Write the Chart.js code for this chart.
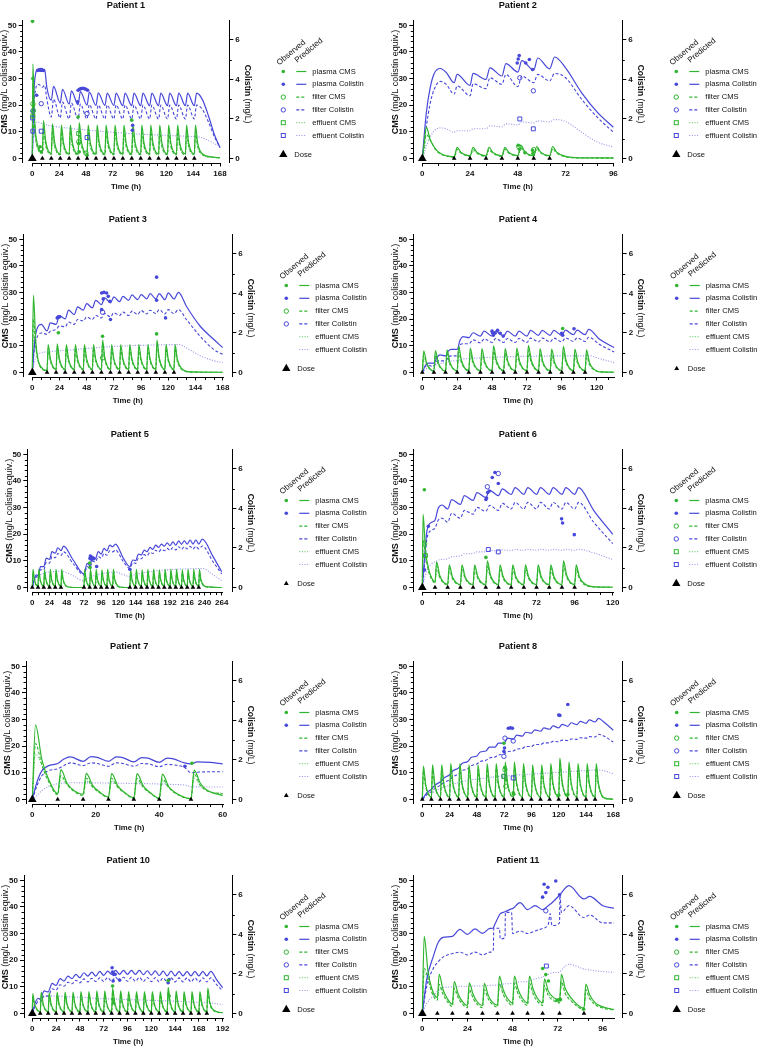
<!DOCTYPE html>
<html><head><meta charset="utf-8">
<script src="https://cdn.jsdelivr.net/npm/chart.js@4.4.1/dist/chart.umd.min.js"></script>
<style>
html,body{margin:0;padding:0;background:#fff;overflow:hidden;}
#wrap{position:relative;width:759px;height:1050px;}
canvas{position:absolute;}
</style></head><body><div id="wrap"></div>
<script>
// ================= DATA =================
const cmsTicks = [0, 10, 20, 30, 40, 50];
const colistinTicks = [0, 2, 4, 6];

// ---------- Patient 1 ----------
const p1XTicks = [0,24,48,72,96,120,144,168];
const p1DoseLoad = [0];
const p1DoseMaint = [9,17,25,33,41,49,57,65,73,81,89,97,105,113,121,129,137,145];
const p1CmsTime = [0,0.5,2,4, 9,10,12, 17,18,20, 25,26,28, 33,34,36, 41,42,44, 49,50,52, 57,58,60, 65,66,68, 73,74,76, 81,82,84, 89,90,92, 97,98,100, 105,106,108, 113,114,116, 121,122,124, 129,130,132, 137,138,140, 145,146,148, 153,160,168];
const p1PlasmaCms = [0,35.5,15,6.5, 2.5,14.2,6.5, 1.8,13,6, 1.7,12.5,5.8, 1.7,12.5,5.8, 1.7,13.5,6.2, 1.8,12.5,5.8, 1.7,12.5,5.8, 1.7,12.5,5.8, 1.7,12.5,5.8, 1.7,12.5,5.8, 1.7,12.8,6, 1.7,12.5,5.8, 1.7,12.5,5.8, 1.7,12.5,5.8, 1.7,12.5,5.8, 1.7,12.5,5.8, 1.7,12.5,5.8, 1.7,12.5,5.8, 1.5,0.6,0.3];
const p1FilterCms = [0,28,12,5, 2,11.5,5.2, 1.5,10.5,4.8, 1.4,10,4.6, 1.4,10,4.6, 1.4,10.8,5, 1.4,10,4.6, 1.4,10,4.6, 1.4,10,4.6, 1.4,10,4.6, 1.4,10,4.6, 1.4,10.2,4.7, 1.4,10,4.6, 1.4,10,4.6, 1.4,10,4.6, 1.4,10,4.6, 1.4,10,4.6, 1.4,10,4.6, 1.4,10,4.6, 1.2,0.5,0.2];
const p1EffluentCms = [0,20,11,5, 2,9,4.6, 1.5,8.3,4.2, 1.4,8,4, 1.4,8,4, 1.4,8.6,4.3, 1.4,8,4, 1.4,8,4, 1.4,8,4, 1.4,8,4, 1.4,8,4, 1.4,8.2,4.1, 1.4,8,4, 1.4,8,4, 1.4,8,4, 1.4,8,4, 1.4,8,4, 1.4,8,4, 1.4,8,4, 1.2,0.5,0.2];
const p1ColTime = [0,1,3,5,7,9,11,13, 17,19, 25,27, 33,35, 41,43, 49,51, 57,59, 65,67, 73,75, 81,83, 89,91, 97,99, 105,107, 113,115, 121,123, 129,131, 137,139, 145,147, 152,158,163,168];
const p1PlasmaCol = [0,2.8,4.3,4.5,4.4,4.4,4.5,3.6, 2.95,3.65, 2.8,3.5, 2.75,3.42, 2.72,3.38, 2.7,3.35, 2.68,3.32, 2.68,3.3, 2.68,3.3, 2.67,3.3, 2.67,3.3, 2.67,3.3, 2.67,3.3, 2.67,3.3, 2.67,3.3, 2.67,3.3, 2.67,3.3, 2.67,3.3, 3.0,2.1,1.2,0.55];
const p1FilterCol = [0,2.2,3.5,3.75,3.7,3.6,3.7,3.0, 2.1,3.0, 2.05,2.85, 2.0,2.8, 2.0,2.75, 2.0,2.72, 2.0,2.7, 2.0,2.7, 2.0,2.7, 2.0,2.7, 2.0,2.7, 2.0,2.7, 2.0,2.7, 2.0,2.7, 2.0,2.7, 2.0,2.7, 2.0,2.7, 2.0,2.7, 2.5,1.8,1.1,0.55];
const p1EffluentCol = [0,1.0,1.8,1.85,1.8,1.76,1.72,1.69, 1.64,1.62, 1.58,1.56, 1.53,1.51, 1.48,1.47, 1.44,1.43, 1.4,1.39, 1.36,1.35, 1.32,1.31, 1.29,1.28, 1.26,1.25, 1.23,1.22, 1.21,1.2, 1.19,1.18, 1.17,1.16, 1.15,1.14, 1.13,1.12, 1.11,1.1, 1.05,0.9,0.75,0.62];
const p1ObsPlasmaCms = [[0.2,51.5],[0.5,30],[1,20],[1.5,12],[7,4.4],[8,2.5],[41,15.6],[41.5,5.6],[42,2.5],[49,1.25],[89,14.4]];
const p1ObsPlasmaCol = [[3.9,3.2],[4.8,4.45],[6,4.48],[7.2,4.5],[8.5,4.5],[10,4.45],[40.5,2.86],[41,3.45],[42.2,3.5],[43.5,3.53],[45,3.55],[46.5,3.53],[48,3.5],[49.5,3.45],[89.5,1.43],[89.8,1.68]];
const p1ObsFilterCms = [[0.5,20.5],[1,18],[8,3.5],[41.5,6.3],[48,2]];
const p1ObsFilterCol = [[0.5,2.4],[8,2.77],[49,2.27]];
const p1ObsEffluentCms = [[0.5,16],[41.5,9.4]];
const p1ObsEffluentCol = [[0.3,2.05],[0.5,1.38],[8,1.38],[49,1.06]];

// ---------- Patient 2 ----------
const p2XTicks = [0,24,48,72,96];
const p2DoseLoad = [0];
const p2DoseMaint = [16,24,32,40,48,56,64];
const p2CmsTime = [0,1,2,4,7,10,13,16,17.5,19.5,24,25.5,27.5,32,33.5,35.5,40,41.5,43.5,48,49.5,51.5,56,57.5,59.5,64,65.5,67.5,72,80,96];
const p2PlasmaCms = [0,6,11.8,7,3.2,1.6,0.9,0.6,4.2,2.3,1.0,4.2,2.3,1.0,4.2,2.3,1.0,4.2,2.3,1.1,5.0,2.6,1.1,4.5,2.4,1.1,4.5,2.4,0.8,0.25,0.2];
const p2FilterCms = [0,5,9,7,3,1.4,0.8,0.5,3.5,2.0,0.8,3.5,2.0,0.8,3.5,2.0,0.8,3.5,2.0,0.9,4.0,2.2,0.9,3.8,2.1,0.9,3.8,2.1,0.6,0.2,0.15];
const p2EffluentCms = [0,3,7,6.5,3.2,1.5,0.9,0.6,2.8,2.1,0.9,2.8,2.1,0.9,2.8,2.1,0.9,2.8,2.1,1.0,3.3,2.3,1.0,3.1,2.2,1.0,3.1,2.2,0.7,0.25,0.15];
const p2ColTime = [0,2,4,6,9,12,16,17.5,24,25.5,32,34,40,42,48,50,56,58,64,66.5,72,80,88,96];
const p2PlasmaCol = [0,2.3,3.6,4.3,4.55,4.35,3.83,4.25,3.7,4.3,4.0,4.58,4.17,4.8,4.37,4.95,4.47,5.08,4.53,5.13,4.58,3.33,2.33,1.58];
const p2FilterCol = [0,1.6,2.8,3.5,3.9,3.75,3.25,3.67,3.17,3.78,3.53,4.08,3.75,4.25,3.63,4.17,3.83,4.25,3.92,4.3,4.08,3.0,2.08,1.33];
const p2EffluentCol = [0,0.6,1.1,1.4,1.55,1.5,1.33,1.4,1.4,1.5,1.5,1.65,1.6,1.75,1.7,1.85,1.8,1.9,1.85,1.97,1.87,1.33,0.83,0.58];
const p2ObsPlasmaCms = [[48.2,5.0],[48.8,3.5],[51.6,2.2],[55.4,3.1],[55.6,1.9]];
const p2ObsPlasmaCol = [[47.7,4.83],[48.2,5.03],[48.7,5.2],[52,4.83],[53.8,5.0],[55.4,4.5]];
const p2ObsFilterCms = [[48.5,4.4],[56,3.3]];
const p2ObsFilterCol = [[49,4.08],[55.8,3.42]];
const p2ObsEffluentCms = [];
const p2ObsEffluentCol = [[49,2.0],[55.8,1.5]];

// ---------- Patient 3 ----------
const p3XTicks = [0,24,48,72,96,120,144,168];
const p3DoseLoad = [0];
const p3DoseMaint = [13,21,29,37,45,53,61,69,77,85,93,101,109,117,125];
const p3CmsTime = [0,1,3,5,9, 13,14,16, 21,22,24, 29,30,32, 37,38,40, 45,46,48, 53,54,56, 61,62,64, 69,70,72, 77,78,80, 85,86,88, 93,94,96, 101,102,104, 109,110,112, 117,118,120, 125,126,128, 133,140,168];
const p3PlasmaCms = [0,29,12,5,1.5, 0.8,10.5,5, 1.2,10.8,5, 1.2,10.5,5, 1.2,10.5,5, 1.2,10.5,5, 1.2,10.5,5, 1.2,12.2,5.6, 1.2,10.5,5, 1.2,10.5,5, 1.2,10.5,5, 1.2,10.5,5, 1.2,10.5,5, 1.2,12.2,5.6, 1.2,10.5,5, 1.2,10.5,5, 1.0,0.2,0.1];
const p3FilterCms = [0,20,10,4.5,1.2, 0.7,9,4.3, 1,9.2,4.3, 1,9,4.3, 1,9,4.3, 1,9,4.3, 1,9,4.3, 1,10.4,4.8, 1,9,4.3, 1,9,4.3, 1,9,4.3, 1,9,4.3, 1,9,4.3, 1,10.4,4.8, 1,9,4.3, 1,9,4.3, 0.8,0.15,0.1];
const p3EffluentCms = [0,14,9,4.2,1.3, 0.7,7.5,4, 1,7.6,4, 1,7.5,4, 1,7.5,4, 1,7.5,4, 1,7.5,4, 1,8.6,4.5, 1,7.5,4, 1,7.5,4, 1,7.5,4, 1,7.5,4, 1,7.5,4, 1,8.6,4.5, 1,7.5,4, 1,7.5,4, 0.8,0.15,0.1];
const p3ColTime = [0,2,4,8,13,16,21,24,29,32,37,40,45,48,53,56,61,64,69,72,77,80,85,88,93,96,101,104,109,112,117,120,125,129,136,148,160,168];
const p3PlasmaCol = [0,1.5,2.18,2.43,2.1,2.51,2.43,2.88,2.71,3.15,2.93,3.32,3.15,3.48,3.27,3.65,3.43,3.77,3.52,3.82,3.58,3.85,3.65,3.92,3.68,3.94,3.72,3.99,3.72,3.99,3.68,4.02,3.72,4.05,3.35,2.35,1.68,1.26];
const p3FilterCol = [0,1.3,1.76,2.0,1.93,2.09,2.18,2.35,2.31,2.55,2.43,2.68,2.6,2.81,2.68,2.88,2.76,2.98,2.81,3.02,2.88,3.05,2.88,3.1,2.93,3.13,2.96,3.15,2.98,3.18,2.96,3.18,2.98,3.18,2.68,1.84,1.17,0.92];
const p3EffluentCol = [0,0.6,0.84,1.0,1.04,1.05,1.09,1.1,1.12,1.13,1.15,1.17,1.2,1.21,1.24,1.25,1.28,1.29,1.31,1.32,1.33,1.34,1.35,1.36,1.37,1.37,1.38,1.39,1.39,1.4,1.4,1.41,1.41,1.42,1.25,0.85,0.6,0.5];
const p3ObsPlasmaCms = [[23,14.9],[62,13.6],[109.7,14.5]];
const p3ObsPlasmaCol = [[22,2.76],[23,2.81],[24,2.81],[61.2,4.02],[61.2,3.18],[62.6,3.72],[63.2,4.05],[65.6,4.02],[67,3.85],[68.5,3.6],[69,2.68],[109.7,4.82],[109.7,3.65],[117.6,2.76]];
const p3ObsFilterCms = [[62,5.5]];
const p3ObsFilterCol = [[62,3.05]];
const p3ObsEffluentCms = [];
const p3ObsEffluentCol = [];

// ---------- Patient 4 ----------
const p4XTicks = [0,24,48,72,96,120];
const p4DoseLoad = [];
const p4DoseMaint = [0,8,16,24,32,40,48,56,64,72,80,88,96,104,112];
const p4CmsTime = [0,1,3, 8,9,11, 16,17,19, 24,25,27, 32,33,35, 40,41,43, 48,49,51, 56,57,59, 64,65,67, 72,73,75, 80,81,83, 88,89,91, 96,97,99, 104,105,107, 112,113,115, 120,124,132];
const p4PlasmaCms = [0,8.1,3.6, 0.6,8.2,3.7, 0.6,8.5,3.8, 0.6,9.8,4.4, 0.7,9.2,4.1, 0.7,9,4, 0.7,10,4.5, 0.7,9,4, 0.7,9.2,4.1, 0.7,10.2,4.6, 0.7,9,4, 0.7,8.8,3.9, 0.7,9.8,4.4, 0.7,8.8,3.9, 0.7,8.5,3.8, 0.6,0.2,0.1];
const p4FilterCms = [0,6.5,3, 0.5,6.6,3.1, 0.5,6.8,3.2, 0.5,7.8,3.6, 0.6,7.4,3.4, 0.6,7.2,3.3, 0.6,8,3.7, 0.6,7.2,3.3, 0.6,7.4,3.4, 0.6,8.2,3.8, 0.6,7.2,3.3, 0.6,7,3.2, 0.6,7.8,3.6, 0.6,7,3.2, 0.6,6.8,3.1, 0.5,0.15,0.1];
const p4EffluentCms = [0,5,2.8, 0.6,5.2,2.9, 0.6,5.4,3, 0.6,6.2,3.4, 0.7,5.8,3.2, 0.7,5.7,3.2, 0.7,6.3,3.5, 0.7,5.7,3.2, 0.7,5.8,3.2, 0.7,6.4,3.6, 0.7,5.7,3.2, 0.7,5.5,3.1, 0.7,6.2,3.4, 0.7,5.5,3.1, 0.7,5.4,3, 0.6,0.2,0.1];
const p4ColTime = [0,2,4,8,10,12,16,18,20,24,26,28,32,35,40,42.5,48,50.5,56,58.5,64,66.5,72,74.5,80,82.5,88,90.5,96,98.5,104,106.5,112,114.5,122,132];
const p4PlasmaCol = [0,0.34,0.47,0.47,0.75,0.89,0.84,1.09,1.17,1.17,1.64,1.81,1.76,2.01,1.84,2.09,1.84,2.09,1.84,2.09,1.84,2.09,1.84,2.13,1.88,2.13,1.88,2.13,1.88,2.14,1.91,2.14,1.91,2.18,1.68,1.26];
const p4FilterCol = [0,0.3,0.34,0.34,0.55,0.59,0.59,0.8,0.84,0.84,1.4,1.45,1.45,1.65,1.5,1.7,1.52,1.72,1.52,1.72,1.52,1.72,1.52,1.74,1.55,1.74,1.55,1.74,1.55,1.75,1.57,1.75,1.57,1.78,1.42,1.04];
const p4EffluentCol = [0,0.15,0.25,0.35,0.4,0.45,0.5,0.55,0.58,0.6,0.65,0.68,0.7,0.72,0.74,0.76,0.77,0.78,0.79,0.8,0.8,0.81,0.82,0.82,0.83,0.83,0.83,0.84,0.84,0.84,0.84,0.84,0.84,0.85,0.7,0.5];
const p4ObsPlasmaCms = [[96.6,16.5]];
const p4ObsPlasmaCol = [[48,2.09],[48.5,1.98],[49,1.89],[50.2,2.0],[51.8,2.13],[53.6,1.98],[55.7,1.84],[95.9,1.98],[96.6,1.88],[104.4,2.21]];

// ---------- Patient 5 ----------
const p5XTicks = [0,24,48,72,96,120,144,168,192,216,240,264];
const p5DoseLoad = [];
const p5DoseMaint = [0,8,16,24,32,40,72,80,88,96,104,112,136,144,152,160,168,176,184,192,200,208,216,224,232];
const p5CmsTime = [0,1,3,8,9,11,16,17,19,24,25,27,32,33,35,40,41,43,49,60, 72,73,75,80,81,83,88,89,91,96,97,99,104,105,107,112,113,115,121,130, 136,137,139,144,145,147,152,153,155,160,161,163,168,169,171,176,177,179,184,185,187,192,193,195,200,201,203,208,209,211,216,217,219,224,225,227,232,233,235,243,264];
const p5PlasmaCms = [0,6.8,3,0.5,6.8,3,0.5,6.6,3,0.5,6.8,3,0.5,6.8,3,0.5,6.8,3,0.3,0, 0,6.8,3,0.5,6.8,3,0.5,6.8,3,0.5,6.6,3,0.5,6.8,3,0.5,6.8,3,0.3,0, 0,6.8,3,0.5,6.8,3,0.5,6.6,3,0.5,6.8,3,0.5,6.8,3,0.5,6.6,3,0.5,6.8,3,0.5,6.8,3,0.5,6.8,3,0.5,6.6,3,0.5,6.8,3,0.5,6.8,3,0.5,6.8,3,0.3,0];
const p5FilterCms = [0,5.5,2.6,0.4,5.5,2.6,0.4,5.4,2.6,0.4,5.5,2.6,0.4,5.5,2.6,0.4,5.5,2.6,0.2,0, 0,5.5,2.6,0.4,5.5,2.6,0.4,5.5,2.6,0.4,5.4,2.6,0.4,5.5,2.6,0.4,5.5,2.6,0.2,0, 0,5.5,2.6,0.4,5.5,2.6,0.4,5.4,2.6,0.4,5.5,2.6,0.4,5.5,2.6,0.4,5.4,2.6,0.4,5.5,2.6,0.4,5.5,2.6,0.4,5.5,2.6,0.4,5.4,2.6,0.4,5.5,2.6,0.4,5.5,2.6,0.4,5.5,2.6,0.2,0];
const p5EffluentCms = [0,4.4,2.8,0.6,4.5,2.8,0.6,4.4,2.8,0.6,4.5,2.8,0.6,4.5,2.8,0.6,4.5,2.8,0.3,0, 0,4.4,2.8,0.6,4.5,2.8,0.6,4.5,2.8,0.6,4.4,2.8,0.6,4.5,2.8,0.6,4.5,2.8,0.3,0, 0,4.4,2.8,0.6,4.5,2.8,0.6,4.4,2.8,0.6,4.5,2.8,0.6,4.5,2.8,0.6,4.4,2.8,0.6,4.5,2.8,0.6,4.5,2.8,0.6,4.5,2.8,0.6,4.4,2.8,0.6,4.5,2.8,0.6,4.5,2.8,0.6,4.5,2.8,0.3,0];
const p5ColTime = [0,3,6,8,11.5,16,19.5,24,27.5,32,35.5,40,43.5,57, 72,76.5,80,84,88,92,96,100,104,108,112,116,127, 136,140,144,148,152,156,160,164,168,172,176,180,184,188,192,196,200,204,208,212,216,220,224,228,232,237,252,264];
const p5PlasmaCol = [0,0.45,0.64,0.6,1.06,1.05,1.48,1.42,1.81,1.73,2.01,1.86,2.09,1.39, 0.69,1.22,1.11,1.52,1.47,1.81,1.69,1.98,1.86,2.14,2.06,2.19,1.47, 1.06,1.39,1.36,1.69,1.64,1.89,1.81,2.03,1.93,2.14,2.03,2.19,2.09,2.26,2.11,2.31,2.14,2.36,2.18,2.36,2.19,2.4,2.19,2.4,2.19,2.45,1.56,0.8];
const p5FilterCol = [0,0.38,0.55,0.52,0.9,0.9,1.28,1.23,1.56,1.5,1.72,1.62,1.8,1.2, 0.64,1.06,0.98,1.33,1.3,1.57,1.48,1.72,1.63,1.86,1.8,1.89,1.3, 0.97,1.25,1.22,1.48,1.45,1.66,1.6,1.78,1.72,1.88,1.8,1.93,1.86,1.98,1.88,2.02,1.9,2.06,1.93,2.06,1.95,2.08,1.95,2.08,1.95,2.1,1.3,0.69];
const p5EffluentCol = [0,0.3,0.5,0.55,0.65,0.72,0.76,0.78,0.8,0.81,0.82,0.83,0.8,0.6, 0.33,0.45,0.5,0.58,0.62,0.66,0.69,0.72,0.74,0.76,0.77,0.78,0.65, 0.55,0.62,0.64,0.7,0.72,0.76,0.78,0.8,0.82,0.84,0.86,0.87,0.88,0.89,0.9,0.91,0.92,0.925,0.93,0.935,0.94,0.945,0.95,0.955,0.96,0.96,0.65,0.35];
const p5ObsPlasmaCms = [[80,9.2],[80.5,7.5]];
const p5ObsPlasmaCol = [[80.4,1.47],[81,1.59],[82,1.55],[83,1.42],[84.5,1.5],[86,1.45],[89.7,1.06],[136,0.92]];

// ---------- Patient 6 ----------
const p6XTicks = [0,24,48,72,96,120];
const p6DoseLoad = [0];
const p6DoseMaint = [8,16,24,32,40,48,56,64,72,80,88,96];
const p6CmsTime = [0,0.5,2,4,6, 8,9,11, 16,17,19, 24,25,27, 32,33,35, 40,41,43, 48,49,51, 56,57,59, 64,65,67, 72,73,75, 80,81,83, 88,89,91, 96,97,99, 104,110,120];
const p6PlasmaCms = [0,27.5,14,7,3.5, 2,9.6,4.5, 1.2,8.5,4, 1.1,8.5,4, 1.1,8.5,4, 1.1,10,4.6, 1.1,8.5,4, 1.1,8.5,4, 1.1,8.5,4, 1.1,8.5,4, 1.1,8.5,4, 1.1,10,4.6, 1.1,8.5,4, 0.8,0.2,0.1];
const p6FilterCms = [0,18,12,6,3, 1.7,8,3.8, 1,7.2,3.4, 1,7.2,3.4, 1,7.2,3.4, 1,8.4,3.9, 1,7.2,3.4, 1,7.2,3.4, 1,7.2,3.4, 1,7.2,3.4, 1,7.2,3.4, 1,8.4,3.9, 1,7.2,3.4, 0.6,0.15,0.1];
const p6EffluentCms = [0,12,11,6.5,3.5, 1.8,6.5,3.8, 1.1,5.8,3.4, 1.1,5.8,3.4, 1.1,5.8,3.4, 1.1,6.8,3.9, 1.1,5.8,3.4, 1.1,5.8,3.4, 1.1,5.8,3.4, 1.1,5.8,3.4, 1.1,5.8,3.4, 1.1,6.8,3.9, 1.1,5.8,3.4, 0.7,0.2,0.1];
const p6ColTime = [0,1.5,3,6,8,10,12.5,16,18.5,24,26.5,32,34.5,40,42.5,48,50.5,56,58.5,64,66.5,72,74.5,80,82.5,88,90.5,96,98.5,108,120];
const p6PlasmaCol = [0,1.6,2.9,3.3,3.4,4.0,4.17,3.97,4.44,4.2,4.64,4.4,4.8,4.55,4.91,4.64,4.98,4.7,5.05,4.71,5.05,4.71,5.05,4.71,5.05,4.71,5.05,4.71,5.05,3.9,2.69];
const p6FilterCol = [0,1.2,2.5,2.9,3.0,3.4,3.5,3.3,3.75,3.5,3.9,3.7,4.05,3.85,4.15,3.9,4.25,3.97,4.3,3.97,4.3,3.97,4.3,3.97,4.3,3.97,4.3,3.97,4.3,3.3,2.22];
const p6EffluentCol = [0,0.5,0.9,1.2,1.3,1.38,1.42,1.45,1.55,1.6,1.7,1.72,1.8,1.8,1.87,1.85,1.9,1.87,1.92,1.88,1.93,1.88,1.93,1.88,1.93,1.88,1.93,1.88,1.93,1.75,1.41];
const p6ObsPlasmaCms = [[1.3,36.7],[40.1,11.3]];
const p6ObsPlasmaCol = [[1.3,0.89],[3.8,3.09],[40.1,4.45],[40.5,4.52],[41.2,4.8],[42.2,4.88],[44.1,5.56],[45.8,5.81],[47.9,5.26],[87.8,3.47],[88.4,3.26],[95.8,2.67]];
const p6ObsFilterCms = [[1.5,16.5]];
const p6ObsFilterCol = [[41,5.09],[47.9,5.76]];
const p6ObsEffluentCms = [[2,12]];
const p6ObsEffluentCol = [[41.6,1.92],[47.9,1.8]];

// ---------- Patient 7 ----------
const p7XTicks = [0,20,40,60];
const p7DoseLoad = [0];
const p7DoseMaint = [8,16,24,32,40,50];
const p7CmsTime = [0,1,3,5,8,9,11,13,16,17,19,21,24,25,27,29,32,33,35,37,40,41,43,45,50,51,53,55,60];
const p7PlasmaCms = [0,28,15,8,2.1,11.2,6,3.5,2.0,9.8,5.3,3,0.9,9.7,5,2.7,0.6,9.7,5,2.7,0.5,9.5,4.8,2.6,0.3,11,6,3.6,1.4];
const p7FilterCms = [0,21,13,7,1.8,9,5.5,3.2,1.5,8,4.7,2.7,0.8,8,4.5,2.5,0.5,8,4.5,2.5,0.4,7.8,4.4,2.4,0.3,9.5,5.2,3.3,2.1];
const p7EffluentCms = [0,17,13,7.5,2.2,8,5.5,3.4,1.8,7,4.8,2.9,1.0,7,4.6,2.7,0.6,7,4.6,2.7,0.5,6.8,4.4,2.6,0.4,8,5.3,3.4,2.3];
const p7ColTime = [0,1.5,3,5,8,10,12,16,18.5,20.5,24,26.5,28.5,32,34.5,36.5,40,42.5,44.5,48,50,52,56,60];
const p7PlasmaCol = [0,0.9,1.45,1.7,1.82,2.05,2.15,1.93,2.17,2.13,1.93,2.15,2.12,1.9,2.12,2.09,1.88,2.09,2.05,1.85,1.8,1.9,1.88,1.8];
const p7FilterCol = [0,0.7,1.2,1.45,1.55,1.72,1.85,1.72,1.85,1.82,1.68,1.85,1.82,1.68,1.82,1.8,1.66,1.78,1.75,1.62,1.35,1.38,1.4,1.4];
const p7EffluentCol = [0,0.2,0.45,0.65,0.8,0.83,0.85,0.84,0.84,0.84,0.83,0.83,0.82,0.81,0.8,0.8,0.78,0.77,0.76,0.73,0.65,0.64,0.63,0.63];
const p7ObsPlasmaCms = [[50.3,13.6]];
const p7ObsPlasmaCol = [[48.1,1.68]];

// ---------- Patient 8 ----------
const p8XTicks = [0,24,48,72,96,120,144,168];
const p8DoseLoad = [];
const p8DoseMaint = [0,8,16,24,32,40,48,56,64,72,80,88,96,104,112,120,128,136,144,152];
const p8CmsTime = [0,1,3,8,9,11,16,17,19,24,25,27,32,33,35,40,41,43,48,49,51,56,57,59,64,65,67,72,73,75,80,81,83,88,89,91,96,97,99,104,105,107,112,113,115,120,121,123,128,129,131,136,137,139,144,145,147,152,153,155,160,168];
const p8PlasmaCms = [0,12.5,5.6, 1,13,5.8, 1,13,5.8, 1,13.5,6, 1,13.5,6, 1,13,5.8, 1,13,5.8, 1,13.5,6, 1,13.5,6, 1,14,6.2, 1,14,6.2, 1,13.5,6, 1,13,5.8, 1,13,5.8, 1,13.5,6, 1,15.5,6.8, 1,14,6.2, 1,13.5,6, 1,13.5,6, 1,13.5,6, 0.6,0.1];
const p8FilterCms = [0,10.6,4.8, 0.8,11,5, 0.8,11,5, 0.8,11.5,5.2, 0.8,11.5,5.2, 0.8,11,5, 0.8,11,5, 0.8,11.5,5.2, 0.8,11.5,5.2, 0.8,11.9,5.4, 0.8,11.9,5.4, 0.8,11.5,5.2, 0.8,11,5, 0.8,11,5, 0.8,11.5,5.2, 0.8,13.2,5.9, 0.8,11.9,5.4, 0.8,11.5,5.2, 0.8,11.5,5.2, 0.8,11.5,5.2, 0.5,0.1];
const p8EffluentCms = [0,8.5,4.6, 0.9,8.8,4.8, 0.9,8.8,4.8, 0.9,9.2,5, 0.9,9.2,5, 0.9,8.8,4.8, 0.9,8.8,4.8, 0.9,9.2,5, 0.9,9.2,5, 0.9,9.5,5.2, 0.9,9.5,5.2, 0.9,9.2,5, 0.9,8.8,4.8, 0.9,8.8,4.8, 0.9,9.2,5, 0.9,10.5,5.6, 0.9,9.5,5.2, 0.9,9.2,5, 0.9,9.2,5, 0.9,9.2,5, 0.6,0.1];
const p8ColTime = [0,4,8,11,16,19,24,27,32,35,40,43,48,51,56,59,64,67,72,75,80,83,88,91,96,99,104,107,112,115,120,123,128,131,136,139,144,147,152,155,160,168];
const p8PlasmaCol = [0,0.35,0.52,0.72,0.9,1.08,1.25,1.45,1.6,1.82,1.92,2.12,2.2,2.4,2.45,2.65,2.65,2.85,2.85,3.1,3.05,3.25,3.2,3.4,3.35,3.52,3.45,3.62,3.55,3.72,3.62,3.8,3.7,3.88,3.78,3.95,3.85,4.02,3.92,4.1,3.9,3.5];
const p8FilterCol = [0,0.25,0.4,0.55,0.72,0.85,1.0,1.15,1.3,1.45,1.55,1.7,1.8,1.92,1.98,2.1,2.15,2.25,2.3,2.42,2.45,2.55,2.58,2.68,2.68,2.78,2.78,2.86,2.86,2.94,2.92,3.0,2.98,3.06,3.04,3.12,3.1,3.18,3.16,3.3,3.2,2.9];
const p8EffluentCol = [0,0.2,0.3,0.42,0.55,0.62,0.72,0.78,0.85,0.9,0.95,0.99,1.03,1.06,1.09,1.12,1.14,1.16,1.18,1.2,1.22,1.24,1.25,1.27,1.28,1.3,1.31,1.33,1.34,1.36,1.37,1.39,1.4,1.42,1.43,1.45,1.46,1.48,1.49,1.5,1.45,1.3];
const p8ObsPlasmaCms = [[71.8,21.1],[72.5,12],[73.5,7.4],[80,2.5],[80.5,2],[120,1.6],[128,1.9]];
const p8ObsPlasmaCol = [[71.8,2.43],[72.3,2.6],[75.7,3.6],[77.5,3.62],[79.3,3.6],[120,4.27],[121,4.25],[128,4.8]];
const p8ObsFilterCms = [[72.7,11.2],[73.5,5]];
const p8ObsFilterCol = [[71.8,2.18],[72.7,3.1],[80,2.96]];
const p8ObsEffluentCms = [[71.8,8.7]];
const p8ObsEffluentCol = [[71.8,1.17],[80,1.09]];

// ---------- Patient 10 ----------
const p10XTicks = [0,24,48,72,96,120,144,168,192];
const p10DoseLoad = [0];
const p10DoseMaint = [8,16,24,32,40,48,56,64,72,80,88,96,104,112,120,128,136,144,152,160,168,176];
const p10CmsTime = [0,0.5,2,4, 8,9,11, 16,17,19, 24,25,27, 32,33,35, 40,41,43, 48,49,51, 56,57,59, 64,65,67, 72,73,75, 80,81,83, 88,89,91, 96,97,99, 104,105,107, 112,113,115, 120,121,123, 128,129,131, 136,137,139, 144,145,147, 152,153,155, 160,161,163, 168,169,171, 176,177,179, 184,192];
const p10PlasmaCms = [0,7.5,4,2, 0.6,8,3.6, 0.6,7.8,3.5, 0.6,8,3.6, 0.6,8,3.6, 0.6,8,3.6, 0.6,8.2,3.7, 0.6,8.2,3.7, 0.6,8.5,3.8, 0.6,8.5,3.8, 0.6,9.5,4.3, 0.6,8.5,3.8, 0.6,8.2,3.7, 0.6,8.2,3.7, 0.6,8.2,3.7, 0.6,8.2,3.7, 0.6,8.2,3.7, 0.6,9.8,4.4, 0.6,8.5,3.8, 0.6,8.2,3.7, 0.6,8.2,3.7, 0.6,8.2,3.7, 0.6,9.5,4.3, 1.0,0.3];
const p10FilterCms = [0,6.4,3.4,1.7, 0.5,6.8,3.1, 0.5,6.6,3, 0.5,6.8,3.1, 0.5,6.8,3.1, 0.5,6.8,3.1, 0.5,7,3.2, 0.5,7,3.2, 0.5,7.2,3.2, 0.5,7.2,3.2, 0.5,8.1,3.6, 0.5,7.2,3.2, 0.5,7,3.2, 0.5,7,3.2, 0.5,7,3.2, 0.5,7,3.2, 0.5,7,3.2, 0.5,8.3,3.7, 0.5,7.2,3.2, 0.5,7,3.2, 0.5,7,3.2, 0.5,7,3.2, 0.5,8.1,3.6, 0.8,0.25];
const p10EffluentCms = [0,5.2,3.4,1.8, 0.6,5.6,3.1, 0.6,5.5,3, 0.6,5.6,3.1, 0.6,5.6,3.1, 0.6,5.6,3.1, 0.6,5.7,3.2, 0.6,5.7,3.2, 0.6,6,3.3, 0.6,6,3.3, 0.6,6.6,3.6, 0.6,6,3.3, 0.6,5.7,3.2, 0.6,5.7,3.2, 0.6,5.7,3.2, 0.6,5.7,3.2, 0.6,5.7,3.2, 0.6,6.9,3.8, 0.6,6,3.3, 0.6,5.7,3.2, 0.6,5.7,3.2, 0.6,5.7,3.2, 0.6,6.6,3.6, 0.9,0.3];
const p10ColTime = [0,3,6, 8,12,16,20,24,28,32,36,40,44,48,52,56,60,64,68,72,76,80,84,88,92,96,100,104,108,112,116,120,124,128,132,136,140,144,148,152,156,160,164,168,172,176,180, 186,192];
const p10PlasmaCol = [0,0.55,0.77, 0.72,1.14,1.09,1.52,1.42,1.76,1.64,1.89,1.76,1.98,1.81,2.06,1.89,2.09,1.89,2.13,1.93,2.14,1.98,2.18,1.98,2.18,1.98,2.18,1.98,2.18,1.96,2.16,1.94,2.15,1.92,2.14,1.9,2.14,1.9,2.13,1.9,2.13,1.9,2.13,1.9,2.13,1.9,2.13, 1.7,1.31];
const p10FilterCol = [0,0.4,0.6, 0.58,0.9,0.88,1.25,1.18,1.45,1.38,1.58,1.5,1.68,1.55,1.75,1.6,1.78,1.62,1.8,1.62,1.82,1.63,1.83,1.63,1.83,1.63,1.83,1.63,1.83,1.62,1.82,1.61,1.81,1.6,1.8,1.6,1.8,1.6,1.8,1.6,1.8,1.6,1.8,1.6,1.8,1.6,1.8, 1.45,1.15];
const p10EffluentCol = [0,0.45,0.7, 0.75,0.84,0.88,0.89,0.88,0.87,0.86,0.85,0.84,0.83,0.82,0.81,0.8,0.78,0.77,0.76,0.75,0.74,0.74,0.73,0.72,0.71,0.71,0.7,0.69,0.68,0.68,0.67,0.66,0.66,0.65,0.64,0.64,0.63,0.62,0.61,0.6,0.59,0.58,0.57,0.56,0.55,0.54,0.53, 0.49,0.44];
const p10ObsPlasmaCms = [[81,10.3],[81.5,5.3],[82,4.0],[137,12.4],[138,6.6]];
const p10ObsPlasmaCol = [[80.5,2.31],[81,2.09],[81.5,1.64],[82,1.98],[83.5,1.98],[88,1.69],[137,1.56],[138,1.72]];

// ---------- Patient 11 ----------
const p11XTicks = [0,24,48,72,96];
const p11DoseLoad = [0];
const p11DoseMaint = [8,16,24,32,40,48,56,64,73,86];
const p11CmsTime = [0,1,3,5,8, 9,11,13,16, 17,19,21,24, 25,27,29,32, 33,35,37,40, 41,43,45,48, 49,51,53,56, 57,59,61,64, 65,67,69,73, 74,76,79,86, 87,89,92,96,102];
const p11PlasmaCms = [0,29,16,9.5,6, 14.7,9,6,3.5, 12,7.5,4.8,3, 11.5,7.2,4.6,3, 11.3,7,4.5,3.2, 14,9,6,4, 14,9,6,4, 14,9,6,4, 13,8.5,6.5,5, 14.7,9.5,6,2, 11,7,4,2.5,1.5];
const p11FilterCms = [0,17,13,8,5, 11,7.2,4.8,2.6, 9.5,6,3.8,2.2, 9,5.7,3.6,2.2, 9,5.6,3.6,2.4, 11.3,7.2,4.8,3, 11.3,7.2,4.8,3, 11.3,7.2,4.8,3, 10.5,6.8,5.2,4, 12,7.5,4.8,1.5, 9,5.6,3.3,2,1.3];
const p11EffluentCms = [0,15,13,9,6, 10,7.8,5.4,3.4, 8.5,6.5,4.3,2.8, 8.2,6.3,4.1,2.8, 8.1,6.2,4.1,2.9, 10,7.8,5.4,3.6, 10,7.8,5.4,3.6, 10,7.8,5.4,3.6, 9.5,7.4,5.8,4.5, 10.5,8,5.2,1.8, 8,6,3.6,2.2,1.5];
const p11ColTime = [0,2.3,5.9,8.5,11,16,20,24,28,32,36,37.8,38,41,41.5,44,44.2,47.5,48,52,56,60,64,67,68,69,73,73.2,74,78,86,89,96,102];
const p11PlasmaCol = [0,1.7,2.9,3.6,3.85,3.9,4.25,4.0,4.28,4.05,4.3,4.32,4.37,4.98,5.05,5.14,5.15,5.29,5.3,5.6,5.25,5.45,5.25,5.45,5.52,5.6,5.98,6.0,6.1,6.46,5.79,5.92,5.45,5.32];
const p11FilterCol = [0,1.35,2.29,2.62,2.85,3.03,3.1,2.96,3.1,2.96,3.1,3.23,4.31,4.31,3.77,3.84,5.11,5.11,4.04,4.17,4.04,4.17,4.3,4.5,5.05,4.44,4.58,5.99,5.11,5.45,4.85,4.98,4.58,4.58];
const p11EffluentCol = [0,0.5,0.9,1.15,1.3,1.35,1.37,1.38,1.39,1.4,1.42,1.43,1.43,1.45,1.46,1.5,1.5,1.52,1.53,1.6,1.62,1.75,1.85,1.98,2.02,2.06,2.09,2.1,2.2,2.49,2.25,2.2,2.12,2.08];
const p11ObsPlasmaCms = [[64,16.9],[65.7,14.6],[67.1,12.2],[71.6,5],[72.5,5.1],[73.5,5.2],[85.8,1.6]];
const p11ObsPlasmaCol = [[64,5.88],[64.8,6.53],[65.7,6.11],[66.8,6.38],[71,6.7],[73,6.0]];
const p11ObsFilterCol = [[65.7,5.19]];
const p11ObsEffluentCol = [[66,2.4]];

// ================= RENDERING =================
const FONT = '"Liberation Sans", Arial, Helvetica, sans-serif';
const GREEN = '#2fb52f', BLUE = '#4747d9', GREEN_L = '#74d074', BLUE_L = '#9393ea';
const TXT = '#111';
Chart.defaults.color = TXT;

function zip(t, v) { return t.map((x, i) => ({x: x, y: v[i]})); }
function pairs(a) { return (a || []).map(p => ({x: p[0], y: p[1]})); }

function lineDs(label, t, v, color, axis, dash, w) {
  return {label, data: zip(t, v), yAxisID: axis, borderColor: color, backgroundColor: color,
    borderWidth: w, borderDash: dash, pointRadius: 0, cubicInterpolationMode: 'monotone', fill: false};
}
function obsDs(label, a, color, axis, style, filled, r) {
  return {label, data: pairs(a), yAxisID: axis, showLine: false, pointStyle: style, pointRadius: r,
    pointBorderWidth: filled ? 0 : 1, pointBorderColor: color,
    pointBackgroundColor: filled ? color : 'rgba(255,255,255,0)', borderColor: color, backgroundColor: color};
}
function doseDs(a, r) {
  return {label: 'Dose', data: (a || []).map(t => ({x: t, y: 0})), yAxisID: 'y', showLine: false,
    pointStyle: 'triangle', pointRadius: r, pointBorderWidth: 0, pointBackgroundColor: '#000', borderColor: '#000', backgroundColor: '#000'};
}

function makeDecor(S, D) {
  return {
    id: 'decor',
    afterDraw(chart) {
      const {ctx, chartArea: ca, scales} = chart;
      const x = scales.x, y = scales.y, y1 = scales.y1;
      const al = v => Math.round(v) + 0.5;
      ctx.save();
      ctx.strokeStyle = '#000'; ctx.lineWidth = 1;
      const yb = al(ca.bottom);
      // x axis line from 0 to end
      ctx.beginPath();
      ctx.moveTo(al(x.getPixelForValue(0)) - 0.5, yb);
      ctx.lineTo(al(x.getPixelForValue(S.xEnd)) + 0.5, yb);
      // minor x ticks
      for (let v = S.minor; v <= S.xEnd + 1e-6; v += S.minor) {
        if (D.xTicks.indexOf(v) >= 0) continue;
        const px = al(x.getPixelForValue(v));
        ctx.moveTo(px, yb); ctx.lineTo(px, yb + 2.5);
      }
      // minor y ticks (left)
      for (let v = 2; v <= 50; v += 2) {
        if (v % 10 === 0) continue;
        const py = al(y.getPixelForValue(v));
        ctx.moveTo(ca.left - 2.5, py); ctx.lineTo(ca.left, py);
      }
      // minor y1 ticks (right)
      for (const v of [1, 3, 5]) {
        const py = al(y1.getPixelForValue(v));
        ctx.moveTo(ca.right, py); ctx.lineTo(ca.right + 2.5, py);
      }
      ctx.stroke();

      ctx.fillStyle = TXT;
      ctx.textBaseline = 'middle';
      // left axis title
      ctx.save();
      ctx.translate(S.axL - 18, ca.top + 62);
      ctx.rotate(-Math.PI / 2);
      let fb = 'bold 9px ' + FONT, fn = '9px ' + FONT;
      ctx.font = fb; let w1 = ctx.measureText('CMS ').width;
      ctx.font = fn; let w2 = ctx.measureText('(mg/L colistin equiv.)').width;
      ctx.textAlign = 'left';
      ctx.font = fb; ctx.fillText('CMS ', -(w1 + w2) / 2, 0);
      ctx.font = fn; ctx.fillText('(mg/L colistin equiv.)', -(w1 + w2) / 2 + w1, 0);
      ctx.restore();
      // right axis title
      ctx.save();
      ctx.translate(S.axR + 18, ca.top + 74);
      ctx.rotate(Math.PI / 2);
      fb = 'bold 8.6px ' + FONT; fn = '8.6px ' + FONT;
      ctx.font = fb; w1 = ctx.measureText('Colistin ').width;
      ctx.font = fn; w2 = ctx.measureText('(mg/L)').width;
      ctx.textAlign = 'left';
      ctx.font = fb; ctx.fillText('Colistin ', -(w1 + w2) / 2, 0);
      ctx.font = fn; ctx.fillText('(mg/L)', -(w1 + w2) / 2 + w1, 0);
      ctx.restore();

      // legend
      const mx = S.axR + 54, l0 = S.axR + 67, l1 = S.axR + 77, tx = S.axR + 83;
      const r0 = 71.5, dy = 12.8;
      ctx.font = '8px ' + FONT;
      ctx.textAlign = 'left'; ctx.textBaseline = 'alphabetic';
      ctx.save(); ctx.translate(mx - 4, r0 - 6); ctx.rotate(-40 * Math.PI / 180); ctx.fillText('Observed', 0, 0); ctx.restore();
      ctx.save(); ctx.translate(l0 + 1, r0 - 8.5); ctx.rotate(-40 * Math.PI / 180); ctx.fillText('Predicted', 0, 0); ctx.restore();
      const rows = [
        ['plasma CMS', GREEN, GREEN, [], 'fill'],
        ['plasma Colistin', BLUE, BLUE, [], 'fill'],
        ['filter CMS', GREEN, GREEN, [3, 2], 'circle'],
        ['filter Colistin', BLUE, BLUE, [3, 2], 'circle'],
        ['effluent CMS', GREEN_L, GREEN, [1, 1.6], 'rect'],
        ['effluent Colistin', BLUE_L, BLUE, [1, 1.6], 'rect'],
      ];
      ctx.textBaseline = 'middle';
      ctx.font = '7.6px ' + FONT;
      rows.forEach((r, i) => {
        const yy = r0 + i * dy;
        if (S.marks[i]) {
          ctx.setLineDash([]);
          ctx.beginPath();
          if (r[4] === 'fill') { ctx.fillStyle = r[2]; ctx.arc(mx, yy, 1.8, 0, Math.PI * 2); ctx.fill(); }
          else if (r[4] === 'circle') { ctx.strokeStyle = r[2]; ctx.lineWidth = 1; ctx.arc(mx, yy, 2.2, 0, Math.PI * 2); ctx.stroke(); }
          else { ctx.strokeStyle = r[2]; ctx.lineWidth = 1; ctx.strokeRect(mx - 2, yy - 2, 4, 4); }
        }
        ctx.beginPath();
        ctx.strokeStyle = r[1]; ctx.lineWidth = 1.2; ctx.setLineDash(r[3]);
        ctx.moveTo(l0, yy); ctx.lineTo(l1, yy); ctx.stroke();
        ctx.setLineDash([]);
        ctx.fillStyle = TXT; ctx.fillText(r[0], tx, yy);
      });
      // dose legend
      const dyy = r0 + 83, tr = S.bigDose ? 4.8 : 2.8;
      ctx.fillStyle = '#000';
      ctx.beginPath();
      ctx.moveTo(mx, dyy - tr);
      ctx.lineTo(mx + tr * 0.866, dyy + tr * 0.5);
      ctx.lineTo(mx - tr * 0.866, dyy + tr * 0.5);
      ctx.closePath(); ctx.fill();
      ctx.fillStyle = TXT; ctx.fillText('Dose', mx + 11, dyy);
      ctx.restore();
    }
  };
}

function buildPanel(S, D) {
  const W = S.col === 0 ? 380 : 379, H = 195;
  const cv = document.createElement('canvas');
  cv.width = W; cv.height = H;
  cv.style.left = S.col + 'px'; cv.style.top = S.top + 'px';
  document.getElementById('wrap').appendChild(cv);
  const ds = [
    doseDs(D.doseLoad, 5),
    doseDs(D.doseMaint, 2.7),
    obsDs('plasma CMS obs', D.obsPlasmaCms, GREEN, 'y', 'circle', true, 1.8),
    obsDs('plasma Colistin obs', D.obsPlasmaCol, BLUE, 'y1', 'circle', true, 1.8),
    obsDs('filter CMS obs', D.obsFilterCms, GREEN, 'y', 'circle', false, 2.2),
    obsDs('filter Colistin obs', D.obsFilterCol, BLUE, 'y1', 'circle', false, 2.2),
    obsDs('effluent CMS obs', D.obsEffluentCms, GREEN, 'y', 'rect', false, 2.8),
    obsDs('effluent Colistin obs', D.obsEffluentCol, BLUE, 'y1', 'rect', false, 2.8),
    lineDs('plasma CMS', D.cmsTime, D.plasmaCms, GREEN, 'y', [], 1.2),
    lineDs('plasma Colistin', D.colTime, D.plasmaCol, BLUE, 'y1', [], 1.2),
    lineDs('filter CMS', D.cmsTime, D.filterCms, GREEN, 'y', [3, 2], 1.1),
    lineDs('filter Colistin', D.colTime, D.filterCol, BLUE, 'y1', [3, 2], 1.1),
    lineDs('effluent CMS', D.cmsTime, D.effluentCms, GREEN_L, 'y', [1, 1.6], 1.1),
    lineDs('effluent Colistin', D.colTime, D.effluentCol, BLUE_L, 'y1', [1, 1.6], 1.1),
  ];
  const tickFont = {family: FONT, size: 8, weight: 'bold'};
  const grid = {drawOnChartArea: false, drawTicks: true, tickLength: 4, color: '#000', lineWidth: 1};
  new Chart(cv, {
    type: 'line',
    data: {datasets: ds},
    options: {
      responsive: false, animation: false, devicePixelRatio: 1, events: [],
      layout: {padding: {left: S.axL - 20, right: W - S.axR - 20, top: 0, bottom: 0}},
      plugins: {
        legend: {display: false}, tooltip: {enabled: false},
        title: {display: true, text: D.title, color: TXT, font: {family: FONT, size: 9.2, weight: 'bold'}, padding: {top: 0, bottom: 8.96}}
      },
      scales: {
        x: {type: 'linear', min: S.xMin, max: S.xMax,
          afterBuildTicks: sc => { sc.ticks = D.xTicks.map(v => ({value: v})); },
          afterFit: sc => { sc.height = 32.5; },
          ticks: {font: tickFont, color: TXT, padding: 2.5, maxRotation: 0, autoSkip: false},
          grid: grid, border: {display: false},
          title: {display: true, text: 'Time (h)', color: TXT, font: {family: FONT, size: 7.8, weight: 'bold'}, padding: {top: 0, bottom: 3.3}}},
        y: {type: 'linear', position: 'left', min: -1.5, max: 52,
          afterBuildTicks: sc => { sc.ticks = cmsTicks.map(v => ({value: v})); },
          afterFit: sc => { sc.width = 20; },
          ticks: {font: tickFont, color: TXT, padding: 2, autoSkip: false},
          grid: grid, border: {display: true, color: '#000', width: 1}},
        y1: {type: 'linear', position: 'right', min: -0.202, max: 7,
          afterBuildTicks: sc => { sc.ticks = colistinTicks.map(v => ({value: v})); },
          afterFit: sc => { sc.width = 20; },
          ticks: {font: tickFont, color: TXT, padding: 2, autoSkip: false},
          grid: grid, border: {display: true, color: '#000', width: 1}}
      }
    },
    plugins: [makeDecor(S, D)]
  });
}

const panels = [
  [{col: 0, top: 0, axL: 22.7, axR: 229.3, xMin: -8.6, xMax: 176.3, xEnd: 168, minor: 8, marks: [1,1,1,1,1,1], bigDose: true},
   {title: 'Patient 1', xTicks: p1XTicks, doseLoad: p1DoseLoad, doseMaint: p1DoseMaint, cmsTime: p1CmsTime, plasmaCms: p1PlasmaCms, filterCms: p1FilterCms, effluentCms: p1EffluentCms, colTime: p1ColTime, plasmaCol: p1PlasmaCol, filterCol: p1FilterCol, effluentCol: p1EffluentCol, obsPlasmaCms: p1ObsPlasmaCms, obsPlasmaCol: p1ObsPlasmaCol, obsFilterCms: p1ObsFilterCms, obsFilterCol: p1ObsFilterCol, obsEffluentCms: p1ObsEffluentCms, obsEffluentCol: p1ObsEffluentCol}],
  [{col: 380, top: 0, axL: 33.3, axR: 242.3, xMin: -4.52, xMax: 100.5, xEnd: 96, minor: 8, marks: [1,1,1,1,1,1], bigDose: true},
   {title: 'Patient 2', xTicks: p2XTicks, doseLoad: p2DoseLoad, doseMaint: p2DoseMaint, cmsTime: p2CmsTime, plasmaCms: p2PlasmaCms, filterCms: p2FilterCms, effluentCms: p2EffluentCms, colTime: p2ColTime, plasmaCol: p2PlasmaCol, filterCol: p2FilterCol, effluentCol: p2EffluentCol, obsPlasmaCms: p2ObsPlasmaCms, obsPlasmaCol: p2ObsPlasmaCol, obsFilterCms: p2ObsFilterCms, obsFilterCol: p2ObsFilterCol, obsEffluentCms: p2ObsEffluentCms, obsEffluentCol: p2ObsEffluentCol}],
  [{col: 0, top: 214, axL: 23.3, axR: 232.3, xMin: -7.94, xMax: 176.5, xEnd: 168, minor: 8, marks: [1,1,1,1,0,0], bigDose: true},
   {title: 'Patient 3', xTicks: p3XTicks, doseLoad: p3DoseLoad, doseMaint: p3DoseMaint, cmsTime: p3CmsTime, plasmaCms: p3PlasmaCms, filterCms: p3FilterCms, effluentCms: p3EffluentCms, colTime: p3ColTime, plasmaCol: p3PlasmaCol, filterCol: p3FilterCol, effluentCol: p3EffluentCol, obsPlasmaCms: p3ObsPlasmaCms, obsPlasmaCol: p3ObsPlasmaCol, obsFilterCms: p3ObsFilterCms, obsFilterCol: p3ObsFilterCol, obsEffluentCms: p3ObsEffluentCms, obsEffluentCol: p3ObsEffluentCol}],
  [{col: 380, top: 214, axL: 33.3, axR: 242.7, xMin: -6.19, xMax: 137.9, xEnd: 132, minor: 8, marks: [1,1,0,0,0,0], bigDose: false},
   {title: 'Patient 4', xTicks: p4XTicks, doseLoad: p4DoseLoad, doseMaint: p4DoseMaint, cmsTime: p4CmsTime, plasmaCms: p4PlasmaCms, filterCms: p4FilterCms, effluentCms: p4EffluentCms, colTime: p4ColTime, plasmaCol: p4PlasmaCol, filterCol: p4FilterCol, effluentCol: p4EffluentCol, obsPlasmaCms: p4ObsPlasmaCms, obsPlasmaCol: p4ObsPlasmaCol}],
  [{col: 0, top: 429, axL: 27.3, axR: 232.3, xMin: -6.97, xMax: 278.8, xEnd: 264, minor: 8, marks: [1,1,0,0,0,0], bigDose: false},
   {title: 'Patient 5', xTicks: p5XTicks, doseLoad: p5DoseLoad, doseMaint: p5DoseMaint, cmsTime: p5CmsTime, plasmaCms: p5PlasmaCms, filterCms: p5FilterCms, effluentCms: p5EffluentCms, colTime: p5ColTime, plasmaCol: p5PlasmaCol, filterCol: p5FilterCol, effluentCol: p5EffluentCol, obsPlasmaCms: p5ObsPlasmaCms, obsPlasmaCol: p5ObsPlasmaCol}],
  [{col: 380, top: 429, axL: 33.3, axR: 242.3, xMin: -5.67, xMax: 126.05, xEnd: 120, minor: 8, marks: [1,1,1,1,1,1], bigDose: true},
   {title: 'Patient 6', xTicks: p6XTicks, doseLoad: p6DoseLoad, doseMaint: p6DoseMaint, cmsTime: p6CmsTime, plasmaCms: p6PlasmaCms, filterCms: p6FilterCms, effluentCms: p6EffluentCms, colTime: p6ColTime, plasmaCol: p6PlasmaCol, filterCol: p6FilterCol, effluentCol: p6EffluentCol, obsPlasmaCms: p6ObsPlasmaCms, obsPlasmaCol: p6ObsPlasmaCol, obsFilterCms: p6ObsFilterCms, obsFilterCol: p6ObsFilterCol, obsEffluentCms: p6ObsEffluentCms, obsEffluentCol: p6ObsEffluentCol}],
  [{col: 0, top: 641, axL: 26, axR: 232.3, xMin: -1.99, xMax: 63.03, xEnd: 60, minor: 4, marks: [1,1,0,0,0,0], bigDose: false},
   {title: 'Patient 7', xTicks: p7XTicks, doseLoad: p7DoseLoad, doseMaint: p7DoseMaint, cmsTime: p7CmsTime, plasmaCms: p7PlasmaCms, filterCms: p7FilterCms, effluentCms: p7EffluentCms, colTime: p7ColTime, plasmaCol: p7PlasmaCol, filterCol: p7FilterCol, effluentCol: p7EffluentCol, obsPlasmaCms: p7ObsPlasmaCms, obsPlasmaCol: p7ObsPlasmaCol}],
  [{col: 380, top: 641, axL: 33.3, axR: 242.7, xMin: -7.92, xMax: 176.3, xEnd: 168, minor: 8, marks: [1,1,1,1,1,1], bigDose: true},
   {title: 'Patient 8', xTicks: p8XTicks, doseLoad: p8DoseLoad, doseMaint: p8DoseMaint, cmsTime: p8CmsTime, plasmaCms: p8PlasmaCms, filterCms: p8FilterCms, effluentCms: p8EffluentCms, colTime: p8ColTime, plasmaCol: p8PlasmaCol, filterCol: p8FilterCol, effluentCol: p8EffluentCol, obsPlasmaCms: p8ObsPlasmaCms, obsPlasmaCol: p8ObsPlasmaCol, obsFilterCms: p8ObsFilterCms, obsFilterCol: p8ObsFilterCol, obsEffluentCms: p8ObsEffluentCms, obsEffluentCol: p8ObsEffluentCol}],
  [{col: 0, top: 855, axL: 24, axR: 232.3, xMin: -8.37, xMax: 201.7, xEnd: 192, minor: 8, marks: [1,1,1,1,1,1], bigDose: true},
   {title: 'Patient 10', xTicks: p10XTicks, doseLoad: p10DoseLoad, doseMaint: p10DoseMaint, cmsTime: p10CmsTime, plasmaCms: p10PlasmaCms, filterCms: p10FilterCms, effluentCms: p10EffluentCms, colTime: p10ColTime, plasmaCol: p10PlasmaCol, filterCol: p10FilterCol, effluentCol: p10EffluentCol, obsPlasmaCms: p10ObsPlasmaCms, obsPlasmaCol: p10ObsPlasmaCol}],
  [{col: 380, top: 855, axL: 33.3, axR: 242.7, xMin: -4.79, xMax: 106.6, xEnd: 102, minor: 8, marks: [1,1,1,1,1,1], bigDose: true},
   {title: 'Patient 11', xTicks: p11XTicks, doseLoad: p11DoseLoad, doseMaint: p11DoseMaint, cmsTime: p11CmsTime, plasmaCms: p11PlasmaCms, filterCms: p11FilterCms, effluentCms: p11EffluentCms, colTime: p11ColTime, plasmaCol: p11PlasmaCol, filterCol: p11FilterCol, effluentCol: p11EffluentCol, obsPlasmaCms: p11ObsPlasmaCms, obsPlasmaCol: p11ObsPlasmaCol, obsFilterCol: p11ObsFilterCol, obsEffluentCol: p11ObsEffluentCol}],
];
panels.forEach(p => buildPanel(p[0], p[1]));
</script></body></html>
